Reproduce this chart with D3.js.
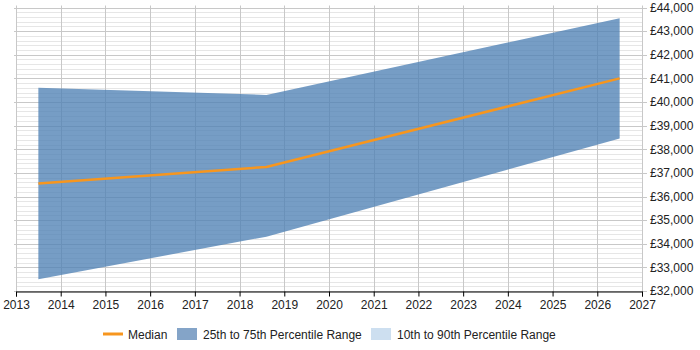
<!DOCTYPE html>
<html><head><meta charset="utf-8">
<script src="https://cdn.jsdelivr.net/npm/d3@7"></script>
<style>body{margin:0;background:#fff}svg text{font-family:"Liberation Sans",Arial,sans-serif;font-size:12px;fill:#222}</style>
</head><body><svg id="c" width="700" height="350"></svg>
<script>
const years = [2013.5, 2018.6, 2026.5];
const p25 = [32500, 34300, 38450];
const p75 = [40600, 40300, 43550];
const median = [36550, 37250, 41000];
const xTicks = d3.range(2013, 2028);
const yTicks = d3.range(32000, 44001, 1000);
const yMinor = d3.range(32000, 44001, 200);
const legendItems = ["Median", "25th to 75th Percentile Range", "10th to 90th Percentile Range"];

const svg = d3.select("#c");
const L = 16, R = 642, T = 7.5, B = 291;
const x = d3.scaleLinear().domain([2013, 2027]).range([L, R]);
const y = d3.scaleLinear().domain([32000, 44000]).range([B, T]);

const g = svg.append("g");
// minor grid
g.selectAll(".mn").data(yMinor).join("line")
  .attr("x1", L).attr("x2", R).attr("y1", d => Math.round(y(d)) + 0.5).attr("y2", d => Math.round(y(d)) + 0.5)
  .attr("stroke", "#e6e6e6");
// major grid
g.selectAll(".mj").data(yTicks).join("line")
  .attr("x1", L - 2).attr("x2", R + 5).attr("y1", d => Math.round(y(d)) + 0.5).attr("y2", d => Math.round(y(d)) + 0.5)
  .attr("stroke", "#c8c8c8");
// vertical grid
g.selectAll(".vg").data(xTicks).join("line")
  .attr("x1", d => Math.round(x(d)) + 0.5).attr("x2", d => Math.round(x(d)) + 0.5)
  .attr("y1", T - 2).attr("y2", B)
  .attr("stroke", "#c8c8c8");

const data = years.map((yr, i) => ({yr, lo: p25[i], hi: p75[i], md: median[i]}));
svg.append("path").datum(data)
  .attr("d", d3.area().x(d => x(d.yr)).y0(d => y(d.lo)).y1(d => y(d.hi)))
  .attr("fill", "#4f81b5").attr("fill-opacity", 0.78);
svg.append("path").datum(data)
  .attr("d", d3.line().x(d => x(d.yr)).y(d => y(d.md)))
  .attr("fill", "none").attr("stroke", "#f7961e").attr("stroke-width", 2.5);

// x axis
const xa = svg.append("g").attr("transform", `translate(0,${B + 0.5})`)
  .call(d3.axisBottom(x).tickValues(xTicks).tickFormat(d3.format("d")).tickSize(5).tickPadding(4));
xa.select(".domain").attr("stroke", "#000");
xa.selectAll(".tick line").attr("stroke", "#000");
xa.selectAll("text").attr("font-size", 12).attr("fill", "#222").attr("font-family", "Liberation Sans, Arial, sans-serif");

// y axis labels (right)
const ya = svg.append("g").attr("transform", `translate(${R},0)`)
  .call(d3.axisRight(y).tickValues(yTicks).tickFormat(d => "£" + d3.format(",")(d)).tickSize(0).tickPadding(8));
ya.select(".domain").remove();
ya.selectAll("text").attr("font-size", 12).attr("fill", "#222").attr("font-family", "Liberation Sans, Arial, sans-serif");

// legend
const lg = svg.append("g");
lg.append("line").attr("x1", 103).attr("x2", 123).attr("y1", 334).attr("y2", 334)
  .attr("stroke", "#f7961e").attr("stroke-width", 3);
lg.append("text").attr("x", 128).attr("y", 338.5).text(legendItems[0]);
lg.append("rect").attr("x", 177).attr("y", 328).attr("width", 20).attr("height", 12).attr("fill", "#84a4c8");
lg.append("text").attr("x", 203).attr("y", 338.5).text(legendItems[1]);
lg.append("rect").attr("x", 371).attr("y", 328).attr("width", 20).attr("height", 12).attr("fill", "#cddff0");
lg.append("text").attr("x", 397).attr("y", 338.5).text(legendItems[2]);
</script></body></html>
